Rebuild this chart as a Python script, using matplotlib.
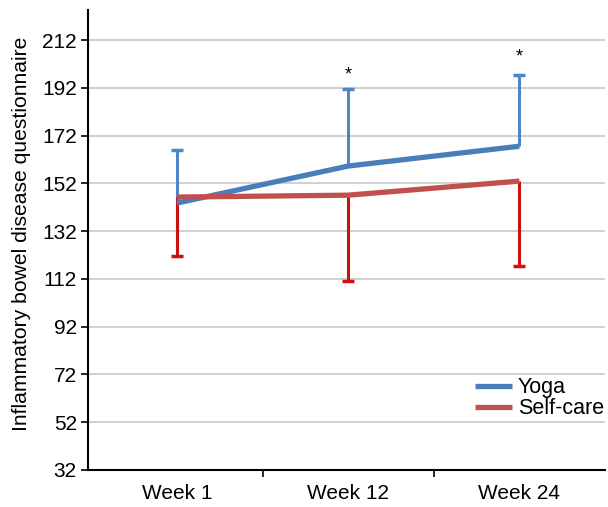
import matplotlib.pyplot as plt
from matplotlib.ticker import FixedLocator

plt.rcParams['font.family'] = ['Liberation Sans', 'DejaVu Sans']

semanas = ['Week 1', 'Week 12', 'Week 24']

yoga = [143.8, 159.3, 167.6]
yoga_erro = [22.2, 32.2, 29.8]      # só para cima

autocuidado = [146.3, 147.1, 153.0]
autocuidado_erro = [24.7, 36.1, 35.6]  # só para baixo

asteriscos = [None, 197.6, 204.9]

fig = plt.figure(figsize=(6.08, 5.07), dpi=100)
ax = fig.add_axes([0.1447, 0.073, 0.8503, 0.907])

x = list(range(len(semanas)))

# barras de erro de um lado só, com traço no fim
yoga_topo = [v + e for v, e in zip(yoga, yoga_erro)]
auto_base = [v - e for v, e in zip(autocuidado, autocuidado_erro)]

ax.vlines(x, yoga, yoga_topo, color='#4f86c6', lw=2.2, zorder=3)
ax.plot(x, yoga_topo, ls='none', marker='_', ms=9, mew=2.5,
        color='#4f86c6', zorder=3)
ax.vlines(x, auto_base, autocuidado, color='#cc1111', lw=2.2, zorder=3)
ax.plot(x, auto_base, ls='none', marker='_', ms=9, mew=2.5,
        color='#cc1111', zorder=3)

# linhas
ax.plot(x, yoga, color='#4a7ebb', lw=3.8, label='Yoga', zorder=4,
        solid_capstyle='butt')
ax.plot(x, autocuidado, color='#c0504d', lw=3.8, label='Self-care', zorder=4,
        solid_capstyle='butt')

for xi, yi in zip(x, asteriscos):
    if yi is not None:
        ax.text(xi, yi, '*', ha='center', va='center', fontsize=13)

ax.set_xlim(-0.52, 2.5)
ax.set_ylim(32, 224.6)
ax.set_yticks(range(32, 213, 20))
ax.set_xticks(x)
ax.set_xticklabels(semanas, fontsize=15)
ax.xaxis.set_minor_locator(FixedLocator([0.5, 1.5]))
ax.tick_params(axis='x', which='major', length=0, pad=10)
ax.tick_params(axis='x', which='minor', length=5, width=1.2, direction='out')
ax.tick_params(axis='y', labelsize=15, length=5, width=1.2, pad=3)

ax.grid(axis='y', color='#c8c8c8', lw=1.2)
ax.set_axisbelow(True)

for lado in ['top', 'right']:
    ax.spines[lado].set_visible(False)
ax.spines['left'].set_linewidth(1.5)
ax.spines['bottom'].set_linewidth(1.5)

ax.set_ylabel('Inflammatory bowel disease questionnaire', fontsize=15.2)
ax.yaxis.set_label_coords(-0.110, 0.514)

ax.legend(loc='lower right', bbox_to_anchor=(1.015, 0.092), frameon=False,
          fontsize=15.5, handlelength=1.7, handletextpad=0.3, labelspacing=0.0,
          borderaxespad=0)

fig.savefig('out.png', dpi=100)
